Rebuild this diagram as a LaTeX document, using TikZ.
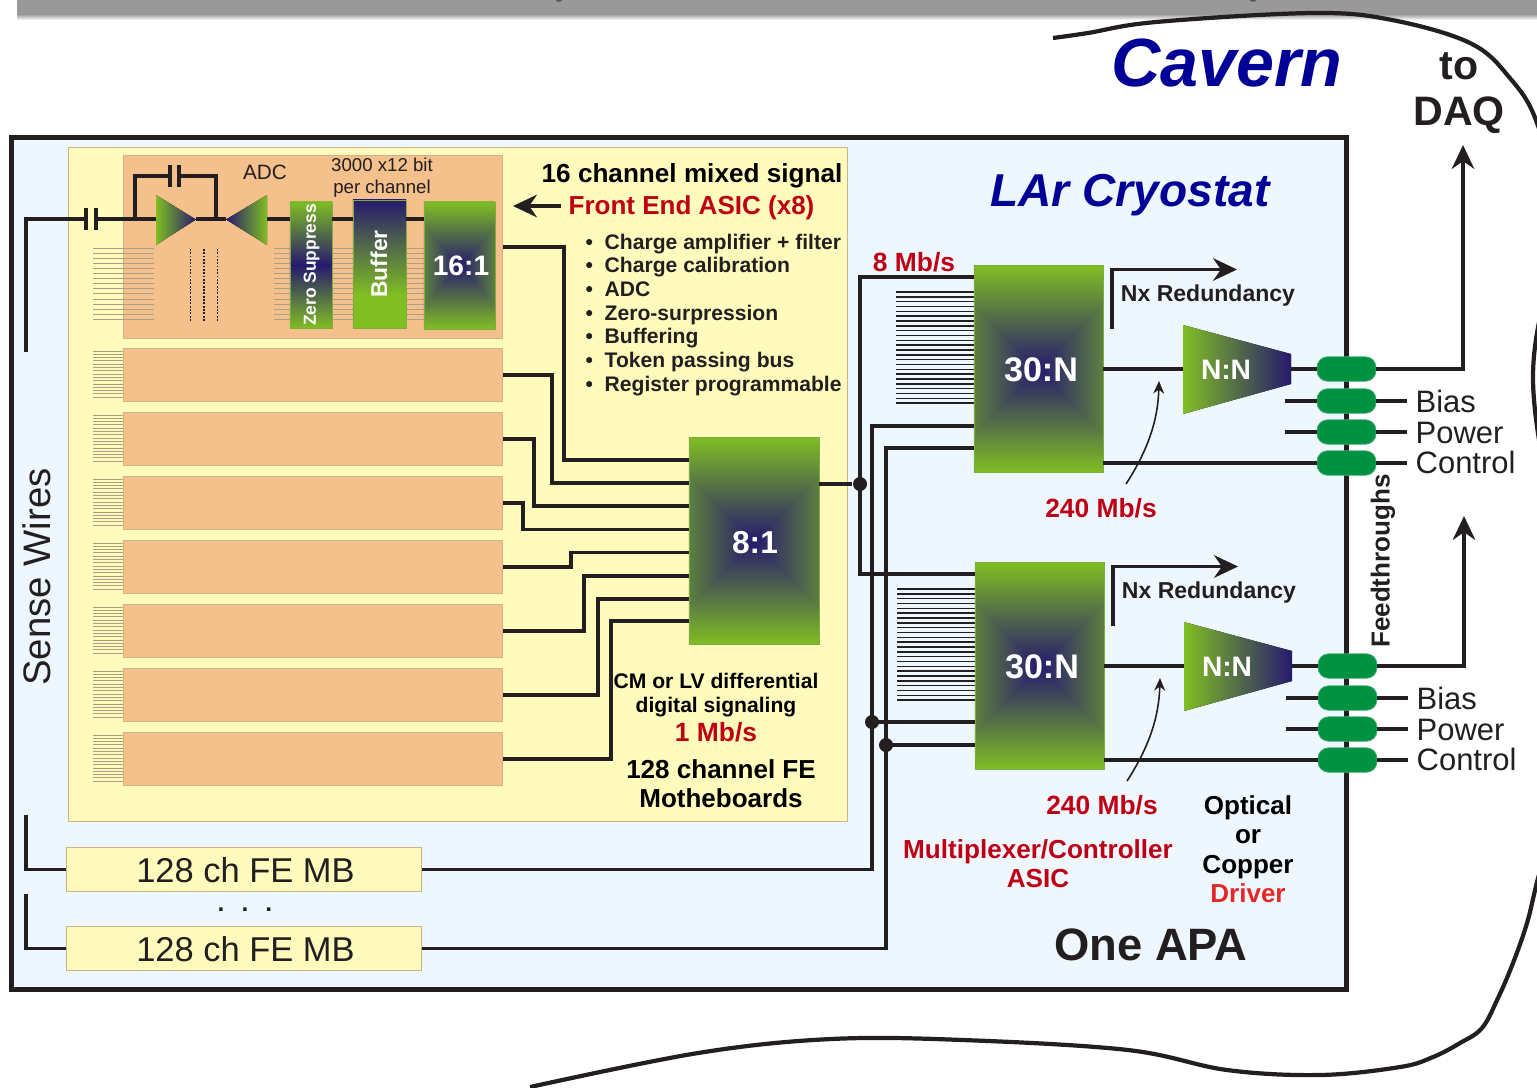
\documentclass[tikz,border=0pt]{standalone}
\usepackage{fontspec}
\setmainfont{Liberation Sans}
\usepackage{tikz}
\usetikzlibrary{arrows.meta}
\definecolor{LArInk}{RGB}{35,31,32}
\definecolor{LArBlue}{RGB}{0,0,150}
\definecolor{LArRed}{RGB}{190,0,20}
\definecolor{LArDrv}{RGB}{228,40,40}
\definecolor{LArIce}{RGB}{238,246,254}
\definecolor{LArCream}{RGB}{255,251,189}
\definecolor{LArTan}{RGB}{244,192,140}
\definecolor{LArEdge}{RGB}{205,180,140}
\definecolor{LArGreen}{RGB}{128,190,35}
\definecolor{LArNavy}{RGB}{38,26,110}
\definecolor{LArPill}{RGB}{0,145,65}
\definecolor{LArComb}{RGB}{172,158,128}
\newcommand{\fsz}[2]{\fontsize{#1}{#2}\selectfont}
\pgfdeclarefunctionalshading{muxfade}{\pgfpoint{-50bp}{-50bp}}{\pgfpoint{50bp}{50bp}}{}{
  abs exch abs 0.62 mul 2 copy lt {exch} if pop 25 div dup 1 gt {pop 1} if
  dup 0.353 mul 0.149 add exch dup 0.643 mul 0.102 add exch -0.294 mul 0.431 add
}
\pgfdeclareverticalshading{buffade}{100bp}{color(0bp)=(LArGreen); color(38bp)=(LArGreen); color(75bp)=(LArNavy); color(100bp)=(LArNavy)}

\begin{document}
\begin{tikzpicture}[x=0.01cm, y=-0.01cm,
    panel/.style={rectangle, inner sep=0pt, draw=LArEdge, line width=0.3pt},
    feboard/.style={panel, fill=LArTan, minimum width=3.79cm, minimum height=0.525cm},
    shortmb/.style={panel, fill=LArCream, minimum width=3.54cm, minimum height=0.44cm,
                    font=\fsz{9.8}{11}, text=LArInk},
    mux/.style={rectangle, inner sep=0pt, shade, shading=muxfade, draw=LArGreen!70!gray,
                line width=0.2pt, text=white, font=\bfseries\fsz{8}{9}},
    pill/.style={rectangle, rounded corners=3pt, fill=LArPill, draw=LArPill!70!white,
                 line width=0.2pt, minimum width=0.59cm, minimum height=0.245cm, inner sep=0pt},
    wire/.style={draw=LArInk, line width=0.95pt},
    fine/.style={draw=LArInk, line width=0.45pt, -{Stealth[length=3.6pt, width=3.1pt]}},
    bigarr/.style={draw=LArInk, line width=0.95pt, -{Stealth[length=6.8pt, width=6.4pt]}},
    combline/.style={draw=LArComb, line width=0.28pt},
    blk/.style={inner sep=0pt, text=black, font=\bfseries\fsz{7.5}{8.3}, align=center},
    inkblk/.style={inner sep=0pt, text=LArInk, font=\bfseries\fsz{7.5}{8.3}, align=center},
    redlbl/.style={inner sep=0pt, text=LArRed, font=\bfseries\fsz{7.5}{8.3}, align=center},
    plain/.style={inner sep=0pt, text=LArInk, font=\fsz{5.9}{6.3}, align=center},
    rail/.style={inner sep=0pt, text=LArInk, font=\fsz{8.8}{10}, anchor=base west},
    jdot/.style={circle, fill=LArInk, inner sep=0pt, minimum size=0.14cm}
  ]
  \useasboundingbox (0,0) rectangle (1537,1087);

  % shadow band along the top edge
  \fill[gray!80] (17,-5) rectangle (1537,14);
  \shade[top color=gray!80, bottom color=white] (17,14) rectangle (1537,20);
  \fill[gray!130] (559,-2) circle (4);
  \fill[gray!130] (1253,-2) circle (4);

  % cavern outline
  \draw[LArInk, line width=1.2pt] plot[smooth, tension=0.6] coordinates {
    (1053,38) (1088,33) (1156,22) (1313,13) (1392,20) (1470,43) (1509,77) (1537,123)
    (1560,220) (1533,380) (1565,600) (1560,790) (1537,882) (1527,923) (1513,963) (1498,998)
    (1482,1028) (1460,1043) (1433,1057) (1400,1067) (1320,1075)
    (1227,1070) (1128,1050) (963,1040) (831,1039) (698,1053) (530,1087)};

  % boxes
  \node[rectangle, draw=LArInk, line width=1.45pt, fill=LArIce, minimum width=13.35cm,
        minimum height=8.52cm, inner sep=0pt] (apa) at (679,563.5) {};
  \node[panel, fill=LArCream, minimum width=7.79cm, minimum height=6.74cm] (fezone) at (458,484.5) {};

  \node[feboard, minimum height=1.83cm] (fe0) at (313,247) {};
  \foreach \i/\y in {1/375, 2/439, 3/503, 4/567, 5/631, 6/695, 7/759} {
    \node[feboard] (fe\i) at (313,\y) {};
    \foreach \k in {0,...,14}
      \draw[combline] (93,\y-24+\k*3.3) -- (123,\y-24+\k*3.3);
  }

  % front end channel
  \foreach \k in {0,...,14} {
    \draw[combline] (93,248+\k*5.1) -- (154,248+\k*5.1);
    \draw[combline] (274,248+\k*5.1) -- (424,248+\k*5.1);
  }
  \foreach \x in {190.5,204,217.5}
    \draw[LArInk, line width=0.5pt, dash pattern=on 0.5pt off 0.45pt] (\x,249) -- (\x,322);

  \node[rectangle, inner sep=0pt, minimum width=0.42cm, minimum height=1.26cm, draw=LArGreen!70!gray,
        line width=0.2pt, top color=LArGreen, bottom color=LArGreen, middle color=LArNavy]
        (zs) at (311,265) {};
  \node[rectangle, inner sep=0pt, minimum width=0.53cm, minimum height=1.28cm, draw=LArGreen!70!gray,
        line width=0.2pt, shade, shading=buffade] (buf) at (379.5,264) {};
  \node[mux, minimum width=0.71cm, minimum height=1.27cm] (mux16) at (459.5,265.5) {};

  \coordinate (adcin) at (156,219);
  \coordinate (swtop) at (26,352);
  \draw[wire] (swtop) |- (86,219);
  \draw[wire] (96,219) -- (adcin);
  \draw[wire] (135,219) |- (170,176);
  \draw[wire] (179,176) -| (216,219);
  \draw[wire] (196,219) -- (226,219);
  \draw[wire] (267,219) -- (zs.west |- adcin);
  \draw[wire] (zs.east |- adcin) -- (buf.west |- adcin);
  \draw[wire] (buf.east |- adcin) -- (mux16.west |- adcin);
  \foreach \x in {86,96} \draw[wire, line width=1.1pt] (\x,208) -- (\x,230);
  \foreach \x in {170,179} \draw[wire, line width=1.1pt] (\x,165) -- (\x,187);
  \fill[left color=LArGreen, right color=LArNavy] (156,195) -- (196,219.5) -- (156,245) -- cycle;
  \fill[left color=LArNavy, right color=LArGreen] (226,219.5) -- (267,195) -- (267,245) -- cycle;

  \node[rotate=90, inner sep=0pt, text=white, font=\bfseries\fsz{4.95}{6}] (zslbl) at (311.5,265) {Zero Suppress};
  \node[rotate=90, inner sep=0pt, text=white, font=\bfseries\fsz{6.5}{7}] (buflbl) at (379,264) {Buffer};
  \node[inner sep=0pt, text=white, font=\bfseries\fsz{8}{9}] (lbl16) at (461,266) {16:1};
  \node[plain] (adclbl) at (265,172) {ADC};
  \node[plain, font=\fsz{5.3}{6.2}] (bitlbl) at (382,178) {3000 x12 bit\\per channel};

  % 8:1 multiplexer and board wires
  \node[mux, minimum width=1.3cm, minimum height=2.07cm] (mux8) at (754,541) {};
  \node[inner sep=0pt, text=white, font=\bfseries\fsz{9}{10}] (lbl8) at (755,542.5) {8:1};
  \draw[wire] (fe0.east) -| (564,460) -- (mux8.west |- 0,460);
  \foreach \i/\xm/\yt in {1/552/483, 2/534/506, 3/523/529.5, 4/571/552.5, 5/584/576, 6/598/599, 7/611/621}
    \draw[wire] (fe\i.east) -| (\xm,\yt) -- (mux8.west |- 0,\yt);

  % short boards
  \node[shortmb] (mba) at (244,869.5) {};
  \node[shortmb] (mbb) at (244,948.5) {};
  \node[inner sep=0pt, text=LArInk, font=\fsz{9.8}{11}] (mbalbl) at (245.5,870) {128 ch FE MB};
  \node[inner sep=0pt, text=LArInk, font=\fsz{9.8}{11}] (mbblbl) at (245.5,949) {128 ch FE MB};
  \node[inner sep=0pt, anchor=base, text=LArInk, font=\bfseries\fsz{7}{8}] (mbdots) at (245,911)
       {.\hspace{1.7mm}.\hspace{1.7mm}.};
  \coordinate (swa) at (26,815);
  \coordinate (swb) at (26,894);
  \draw[wire] (swa) |- (mba.west);
  \draw[wire] (swb) |- (mbb.west);

  % output channels
  \foreach \n/\dx/\dy/\tipy in {a/0/0/145, b/1/297/219} {
    \begin{scope}[shift={(\dx,\dy)}]
      \foreach \k in {0,...,23}
        \draw[LArInk, line width=0.42pt] (896,292+\k*4.83) -- (974,292+\k*4.83);
      \node[mux, minimum width=1.29cm, minimum height=2.07cm] (mux30\n) at (1038.5,369) {};
      \node[inner sep=0pt, text=white, font=\bfseries\fsz{9.7}{11}] (lbl30\n) at (1041,370) {30:N};
      \coordinate (nnin\n) at (1183,369);
      \coordinate (nnout\n) at (1291,369);
      \coordinate (redun\n) at (1112,329);
      \coordinate (reduntip\n) at (1237,269.5);
      \coordinate (ratestart\n) at (1126,484);
      \coordinate (ratetip\n) at (1159,381);
      \coordinate (daqtip\n) at (1463,\tipy);
      \draw[wire] (mux30\n.east |- nnin\n) -- (nnin\n);
      \fill[left color=LArGreen, right color=LArNavy] (1183,325) -- (1291,354) -- (1291,384) -- (1183,414) -- cycle;
      \node[inner sep=0pt, text=white, font=\bfseries\fsz{8}{9}] (nn\n) at (1226,370) {N:N};
      \draw[bigarr] (redun\n) |- (reduntip\n);
      \node[inkblk, font=\bfseries\fsz{6.55}{8}] (redlbl\n) at (1208,296) {Nx Redundancy};
      \draw[fine] (ratestart\n) .. controls (1148,450) and (1158,420) .. (ratetip\n);
      \node[redlbl] (rate\n) at (1101,508) {240 Mb/s};
      \node[pill] (ftd\n) at (1346.5,369) {};
      \node[pill] (fte\n) at (1346.5,401) {};
      \node[pill] (ftf\n) at (1346.5,432) {};
      \node[pill] (ftg\n) at (1346.5,463) {};
      \draw[wire] (nnout\n) -- (ftd\n.west);
      \draw[bigarr] (ftd\n.east) -| (daqtip\n);
      \draw[wire] (1285,401) -- (fte\n.west);
      \draw[wire] (1285,432) -- (ftf\n.west);
      \draw[wire] (mux30\n.east |- ftg\n) -- (ftg\n.west);
      \draw[wire] (fte\n.east) -- (1407,401);
      \draw[wire] (ftf\n.east) -- (1407,432);
      \draw[wire] (ftg\n.east) -- (1407,463);
      \node[rail] (bias\n) at (1415,412) {Bias};
      \node[rail] (power\n) at (1415,443) {Power};
      \node[rail] (ctrl\n) at (1415,473.5) {Control};
    \end{scope}
  }

  % bus wires between multiplexers
  \node[jdot] (joina) at (860,484) {};
  \node[jdot] (joinb) at (872,722) {};
  \node[jdot] (joinc) at (886,745) {};
  \draw[wire] (mux8.east |- joina) -- (joina);
  \draw[wire] (mux30a.west |- 0,277) -| (joina.center) |- (mux30b.west |- 0,574);
  \draw[wire] (mux30a.west |- 0,426) -| (joinb.center) |- (mux30b.west |- joinb);
  \draw[wire] (mux30a.west |- 0,448) -| (joinc.center) |- (mux30b.west |- joinc);
  \draw[wire] (joinb.center) |- (mba.east);
  \draw[wire] (joinc.center) |- (mbb.east);

  % labels
  \node[inner sep=0pt, text=LArBlue, font=\bfseries\itshape\fsz{19.4}{21}] (cavern) at (1227,63) {Cavern};
  \node[inner sep=0pt, text=LArBlue, font=\bfseries\itshape\fsz{13.1}{15}] (cryo) at (1130,195) {LAr Cryostat};
  \node[inkblk, font=\bfseries\fsz{11.7}{13}] (daq) at (1459,93) {to\\DAQ};
  \node[rotate=90, inner sep=0pt, text=LArInk, font=\fsz{10.9}{13}] (sense) at (37,577) {Sense Wires};
  \node[inkblk, font=\bfseries\fsz{12.9}{14}] (oneapa) at (1151,945) {One APA};
  \node[blk, font=\bfseries\fsz{7.43}{9}] (sixteen) at (692,176) {16 channel mixed signal};
  \node[redlbl, font=\bfseries\fsz{7.4}{9}] (asic) at (691.5,208) {Front End ASIC (x8)};
  \coordinate (asictip) at (513,206);
  \coordinate (asictail) at (561,206);
  \draw[bigarr] (asictail) -- (asictip);
  \foreach \yy/\txt in {249/Charge amplifier + filter, 272.7/Charge calibration, 296.5/ADC,
                        320/Zero-surpression, 343.8/Buffering, 367.5/Token passing bus, 391/Register programmable}
    \node[inner sep=0pt, anchor=base west, text=LArInk, font=\bfseries\fsz{6}{7}] at (585,\yy) {\makebox[0.19cm][l]{•}\txt};
  \node[blk, font=\bfseries\fsz{6}{6.85}] (cmlv) at (716,695) {CM or LV differential\\digital signaling};
  \node[redlbl] (onemb) at (716,732) {1 Mb/s};
  \node[blk, font=\bfseries\fsz{7.4}{8.25}] (femb) at (721,784) {128 channel FE\\Motheboards};
  \node[redlbl] (eightmb) at (914,262) {8 Mb/s};
  \node[redlbl, font=\bfseries\fsz{7.42}{8.3}] (muxlbl) at (1038,864) {Multiplexer/Controller\\ASIC};
  \node[blk, font=\bfseries\fsz{7.4}{8.35}] (optical) at (1248,837) {Optical\\or\\Copper};
  \node[inner sep=0pt, text=LArDrv, font=\bfseries\fsz{7.4}{8.3}] (driver) at (1248,893) {Driver};
  \node[rotate=90, inkblk, font=\bfseries\fsz{7.4}{8.3}] (feed) at (1383,561) {Feedthroughs};
\end{tikzpicture}
\end{document}
